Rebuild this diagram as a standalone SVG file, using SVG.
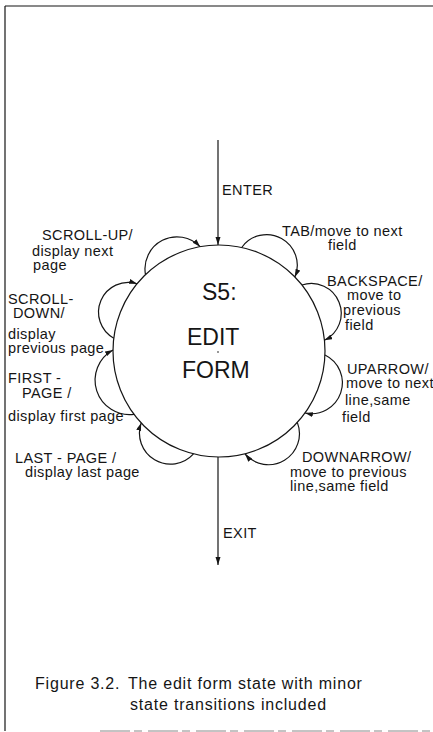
<svg xmlns="http://www.w3.org/2000/svg" width="433" height="732" viewBox="0 0 433 732">
  <style>
    .ln { fill: none; stroke: #151515; stroke-width: 1.2; }
    .lbl { font-family: "Liberation Sans", Arial, sans-serif; font-size: 14.5px; letter-spacing: 0.4px; fill: #151515; }
    .big { font-family: "Liberation Sans", Arial, sans-serif; font-size: 23px; fill: #151515; }
    .cap { font-family: "Liberation Sans", Arial, sans-serif; font-size: 16px; letter-spacing: 0.8px; fill: #151515; }
  </style>
  <defs>
    <marker id="arr" markerUnits="userSpaceOnUse" markerWidth="9" markerHeight="6" refX="8" refY="2.5" orient="auto">
      <path d="M0,0 L8,2.5 L0,5 Z" fill="#151515"/>
    </marker>
  </defs>
  <rect width="433" height="732" fill="#ffffff"/>

  <!-- page frame -->
  <g id="frame">
    <line class="ln" x1="5" y1="6" x2="433" y2="6" stroke-width="1.4"/>
    <line class="ln" x1="5" y1="6" x2="5" y2="731" stroke-width="1.3"/>
    <line x1="100" y1="731" x2="433" y2="731" stroke="#888" stroke-width="1" stroke-dasharray="30 4 8 6"/>
  </g>

  <!-- main state -->
  <g id="s5">
    <circle class="ln" cx="219" cy="351" r="106"/>
    <circle cx="218" cy="352" r="0.8" fill="#151515"/>
    <text class="big" x="202" y="300">S5:</text>
    <text class="big" x="187" y="345">EDIT</text>
    <text class="big" x="182" y="378">FORM</text>
  </g>

  <!-- transitions -->
  <g id="connectors" class="ln" marker-end="url(#arr)">
    <line x1="218" y1="140" x2="218" y2="245"/>
    <line x1="218" y1="457" x2="218" y2="565"/>
    <!-- left-hand self loops -->
    <path d="M145.5,274.6 A32,32 0 0 1 200.1,246.7"/>
    <path d="M113.8,338.2 A29.8,29.8 0 0 1 137.1,283.7"/>
    <path d="M134,414.3 A34.4,34.4 0 0 1 113,350"/>
    <path d="M193.5,453.9 A31,31 0 0 1 141.2,422.9"/>
    <!-- right-hand self loops -->
    <path d="M241.7,247.5 A30.6,30.6 0 0 1 294.9,277"/>
    <path d="M302,285 A29.9,29.9 0 0 1 324.4,340.3"/>
    <path d="M325,355 A30.9,30.9 0 0 1 305,413"/>
    <path d="M297.3,422.4 A31,31 0 0 1 245,454"/>
  </g>

  <g id="enter"><text class="lbl" x="222" y="195" letter-spacing="1.2">ENTER</text></g>
  <g id="exit"><text class="lbl" x="223" y="538" letter-spacing="1.8">EXIT</text></g>

  <g id="scroll-up">
    <text class="lbl" x="42" y="240" letter-spacing="1">SCROLL-UP/</text>
    <text class="lbl" x="32" y="256">display next</text>
    <text class="lbl" x="33" y="270">page</text>
  </g>
  <g id="scroll-down">
    <text class="lbl" x="8" y="304" letter-spacing="0.8">SCROLL-</text>
    <text class="lbl" x="13" y="318">DOWN/</text>
    <text class="lbl" x="8" y="339">display</text>
    <text class="lbl" x="8" y="353">previous page</text>
  </g>
  <g id="first-page">
    <text class="lbl" x="8" y="383">FIRST -</text>
    <text class="lbl" x="22" y="398">PAGE /</text>
    <text class="lbl" x="8" y="421">display first page</text>
  </g>
  <g id="last-page">
    <text class="lbl" x="15" y="463">LAST - PAGE /</text>
    <text class="lbl" x="25" y="477">display last page</text>
  </g>

  <g id="tab">
    <text class="lbl" x="282" y="236">TAB/move to next</text>
    <text class="lbl" x="328" y="250">field</text>
  </g>
  <g id="backspace">
    <text class="lbl" x="327" y="286" letter-spacing="0.5">BACKSPACE/</text>
    <text class="lbl" x="347" y="300" letter-spacing="1">move to</text>
    <text class="lbl" x="343" y="315">previous</text>
    <text class="lbl" x="345" y="330">field</text>
  </g>
  <g id="uparrow">
    <text class="lbl" x="347" y="374">UPARROW/</text>
    <text class="lbl" x="346" y="388" letter-spacing="0" font-size="14px">move to next</text>
    <text class="lbl" x="345" y="405">line,same</text>
    <text class="lbl" x="342" y="422">field</text>
  </g>
  <g id="downarrow">
    <text class="lbl" x="302" y="462" letter-spacing="0.9">DOWNARROW/</text>
    <text class="lbl" x="290" y="477">move to previous</text>
    <text class="lbl" x="290" y="491" letter-spacing="0.9">line,same field</text>
  </g>

  <g id="caption">
    <text class="cap" x="35" y="689">Figure 3.2.</text>
    <text class="cap" x="128" y="689">The edit form state with minor</text>
    <text class="cap" x="130" y="710">state transitions included</text>
  </g>
</svg>
